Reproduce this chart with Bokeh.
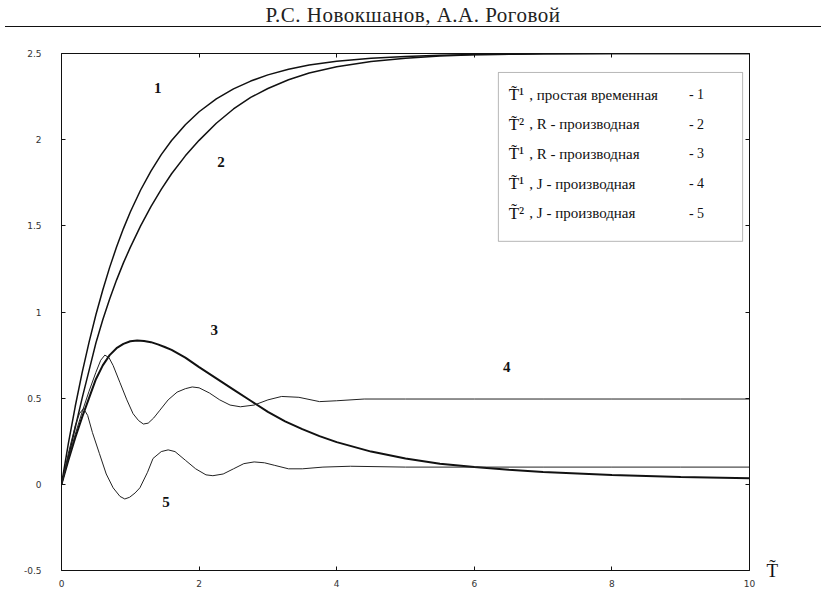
from bokeh.plotting import figure
from bokeh.models import (Label, BoxAnnotation, LinearAxis, FixedTicker, Range1d, Div)
from bokeh.layouts import column
from bokeh.embed import file_html
from bokeh.resources import INLINE

# ---------------- data ----------------
x1 = [0, 0.1, 0.2, 0.3, 0.4, 0.5, 0.6, 0.7, 0.8, 0.9, 1.0, 1.15, 1.3, 1.45, 1.6, 1.8, 2.0, 2.25, 2.5, 2.75, 3.0, 3.3, 3.6, 4.0, 4.5, 5.0, 5.5, 6.0, 7.0, 8.0, 9.0, 10.0]
y1 = [0, 0.238, 0.453, 0.648, 0.824, 0.984, 1.128, 1.259, 1.377, 1.484, 1.58, 1.708, 1.818, 1.913, 1.995, 2.087, 2.162, 2.237, 2.295, 2.34, 2.376, 2.409, 2.433, 2.455, 2.472, 2.483, 2.49, 2.494, 2.498, 2.5, 2.5, 2.5]

x2 = [0, 0.1, 0.2, 0.3, 0.4, 0.5, 0.6, 0.7, 0.8, 0.9, 1.0, 1.15, 1.3, 1.45, 1.6, 1.8, 2.0, 2.25, 2.5, 2.75, 3.0, 3.3, 3.6, 4.0, 4.5, 5.0, 5.5, 6.0, 7.0, 8.0, 9.0, 10.0]
y2 = [0, 0.16, 0.33, 0.5, 0.66, 0.82, 0.955, 1.075, 1.185, 1.285, 1.375, 1.50, 1.612, 1.712, 1.802, 1.906, 1.996, 2.095, 2.178, 2.245, 2.297, 2.348, 2.387, 2.423, 2.453, 2.473, 2.485, 2.493, 2.499, 2.5, 2.5, 2.5]

x3 = [0, 0.1, 0.2, 0.3, 0.4, 0.5, 0.6, 0.7, 0.8, 0.9, 1.0, 1.1, 1.2, 1.3, 1.4, 1.5, 1.6, 1.8, 2.0, 2.25, 2.5, 2.75, 3.0, 3.25, 3.5, 3.75, 4.0, 4.5, 5.0, 5.5, 6.0, 6.5, 7.0, 8.0, 9.0, 10.0]
y3 = [0, 0.14, 0.27, 0.39, 0.50, 0.61, 0.69, 0.75, 0.79, 0.815, 0.83, 0.835, 0.832, 0.825, 0.812, 0.797, 0.78, 0.735, 0.68, 0.615, 0.55, 0.485, 0.42, 0.365, 0.32, 0.28, 0.245, 0.19, 0.15, 0.12, 0.1, 0.085, 0.072, 0.054, 0.043, 0.035]

x4 = [0, 0.1, 0.2, 0.3, 0.4, 0.5, 0.57, 0.63, 0.69, 0.75, 0.85, 0.95, 1.04, 1.12, 1.19, 1.26, 1.34, 1.43, 1.55, 1.68, 1.8, 1.9, 2.0, 2.15, 2.3, 2.45, 2.6, 2.8, 3.0, 3.2, 3.45, 3.75, 4.0, 4.4, 5.0, 6.0, 7.0, 8.0, 9.0, 10.0]
y4 = [0, 0.15, 0.29, 0.42, 0.54, 0.65, 0.72, 0.75, 0.735, 0.69, 0.59, 0.49, 0.41, 0.37, 0.35, 0.355, 0.385, 0.43, 0.49, 0.535, 0.555, 0.565, 0.56, 0.53, 0.49, 0.46, 0.45, 0.46, 0.49, 0.51, 0.505, 0.48, 0.485, 0.495, 0.495, 0.495, 0.495, 0.495, 0.495, 0.495]

x5 = [0, 0.1, 0.2, 0.26, 0.32, 0.38, 0.45, 0.55, 0.65, 0.75, 0.85, 0.92, 0.99, 1.07, 1.14, 1.25, 1.33, 1.45, 1.55, 1.65, 1.8, 1.95, 2.1, 2.2, 2.35, 2.5, 2.65, 2.8, 2.95, 3.1, 3.3, 3.5, 3.8, 4.2, 5.0, 6.0, 7.0, 8.0, 9.0, 10.0]
y5 = [0, 0.18, 0.34, 0.41, 0.44, 0.40, 0.30, 0.18, 0.06, -0.02, -0.07, -0.085, -0.075, -0.05, -0.02, 0.07, 0.15, 0.19, 0.20, 0.19, 0.14, 0.09, 0.055, 0.05, 0.06, 0.09, 0.12, 0.13, 0.125, 0.11, 0.09, 0.09, 0.1, 0.105, 0.1, 0.1, 0.1, 0.1, 0.1, 0.1]

x_ticks = [0, 2, 4, 6, 8, 10]
x_tick_labels = ["0", "2", "4", "6", "8", "10"]
y_ticks = [-0.5, 0, 0.5, 1, 1.5, 2, 2.5]
y_tick_labels = ["-0.5", "0", "0.5", "1", "1.5", "2", "2.5"]

curve_labels = ["1", "2", "3", "4", "5"]
legend_symbols = ["T\u0303\u00b9", "T\u0303\u00b2", "T\u0303\u00b9", "T\u0303\u00b9", "T\u0303\u00b2"]
legend_texts = [", простая временная", ", R - производная", ", R - производная",
                ", J - производная", ", J - производная"]
legend_nums = ["-  1", "-  2", "-  3", "-  4", "-  5"]
header = "Р.С. Новокшанов, А.А. Роговой"
x_label = "T\u0303"

SERIF = "Liberation Serif"

# ---------------- layout ----------------
div = Div(text=('<div style="font-family:\'Liberation Serif\',serif;font-size:21px;'
                'letter-spacing:0.5px;color:#222;text-align:center;width:816px;'
                'height:22px;line-height:21px;border-bottom:1px solid #111;">'
                + header + '</div>'),
          width=816, height=24)

p = figure(width=816, height=557, output_backend="svg", toolbar_location=None,
           x_range=Range1d(0, 10), y_range=Range1d(-0.5, 2.5),
           min_border_left=61, min_border_right=67, min_border_top=19, min_border_bottom=21,
           x_axis_location=None, y_axis_location=None)
p.grid.visible = False
p.outline_line_color = None
p.background_fill_color = "white"
p.border_fill_color = "white"


def make_axis(ticks, labels, standoff):
    ax = LinearAxis(ticker=FixedTicker(ticks=ticks))
    ax.major_tick_in = 4
    ax.major_tick_out = 0
    ax.minor_tick_line_color = None
    ax.axis_line_color = "#111"
    ax.major_tick_line_color = "#111"
    ax.major_label_standoff = standoff
    ax.major_label_text_font = "DejaVu Sans"
    ax.major_label_text_font_size = "9px"
    ax.major_label_text_color = "#333"
    ax.major_label_overrides = {float(t): l for t, l in zip(ticks, labels)}
    return ax


p.add_layout(make_axis(x_ticks, x_tick_labels, 9), "below")
p.add_layout(make_axis(y_ticks, y_tick_labels, 20), "left")
p.add_layout(make_axis(x_ticks, ["" for _ in x_ticks], 0), "above")
# right axis: only the lowest tick carries the x-variable symbol (drawn outside the frame)
right_labels = [x_label if t == y_ticks[0] else "" for t in y_ticks]
rax = make_axis(y_ticks, right_labels, 17)
rax.major_label_text_font = SERIF
rax.major_label_text_font_size = "19px"
rax.major_label_text_color = "#111"
p.add_layout(rax, "right")

# curves
p.line(x1, y1, line_color="#111", line_width=1.5)
p.line(x2, y2, line_color="#111", line_width=1.5)
p.line(x3, y3, line_color="#111", line_width=2.0)
p.line(x4, y4, line_color="#222", line_width=1.0)
p.line(x5, y5, line_color="#222", line_width=1.0)

# curve number labels (positions in data space)
label_pos = [(1.40, 2.30), (2.32, 1.87), (2.22, 0.895), (6.47, 0.68), (1.52, -0.105)]
for t, (lx, ly) in zip(curve_labels, label_pos):
    p.add_layout(Label(x=lx, y=ly, text=t, text_font=SERIF, text_font_style="bold",
                       text_font_size="15px", text_align="center", text_baseline="middle",
                       text_color="#111"))

# legend box
p.add_layout(BoxAnnotation(left=6.35, right=9.90, top=2.39, bottom=1.41,
                           fill_color=None, fill_alpha=0, line_color="#111", line_width=1))
leg_top = 2.26
leg_step = 29.5 / 172
for i in range(5):
    ly = leg_top - i * leg_step
    p.add_layout(Label(x=6.50, y=ly, text=legend_symbols[i], text_font=SERIF,
                       text_font_size="17px", text_baseline="middle", text_color="#111"))
    p.add_layout(Label(x=6.80, y=ly, text=legend_texts[i], text_font=SERIF,
                       text_font_size="15px", text_baseline="middle", text_color="#111"))
    p.add_layout(Label(x=9.12, y=ly, text=legend_nums[i], text_font=SERIF,
                       text_font_size="14px", text_baseline="middle", text_color="#111"))

layout = column(div, p)
open("out.html", "w").write(file_html(layout, INLINE))
